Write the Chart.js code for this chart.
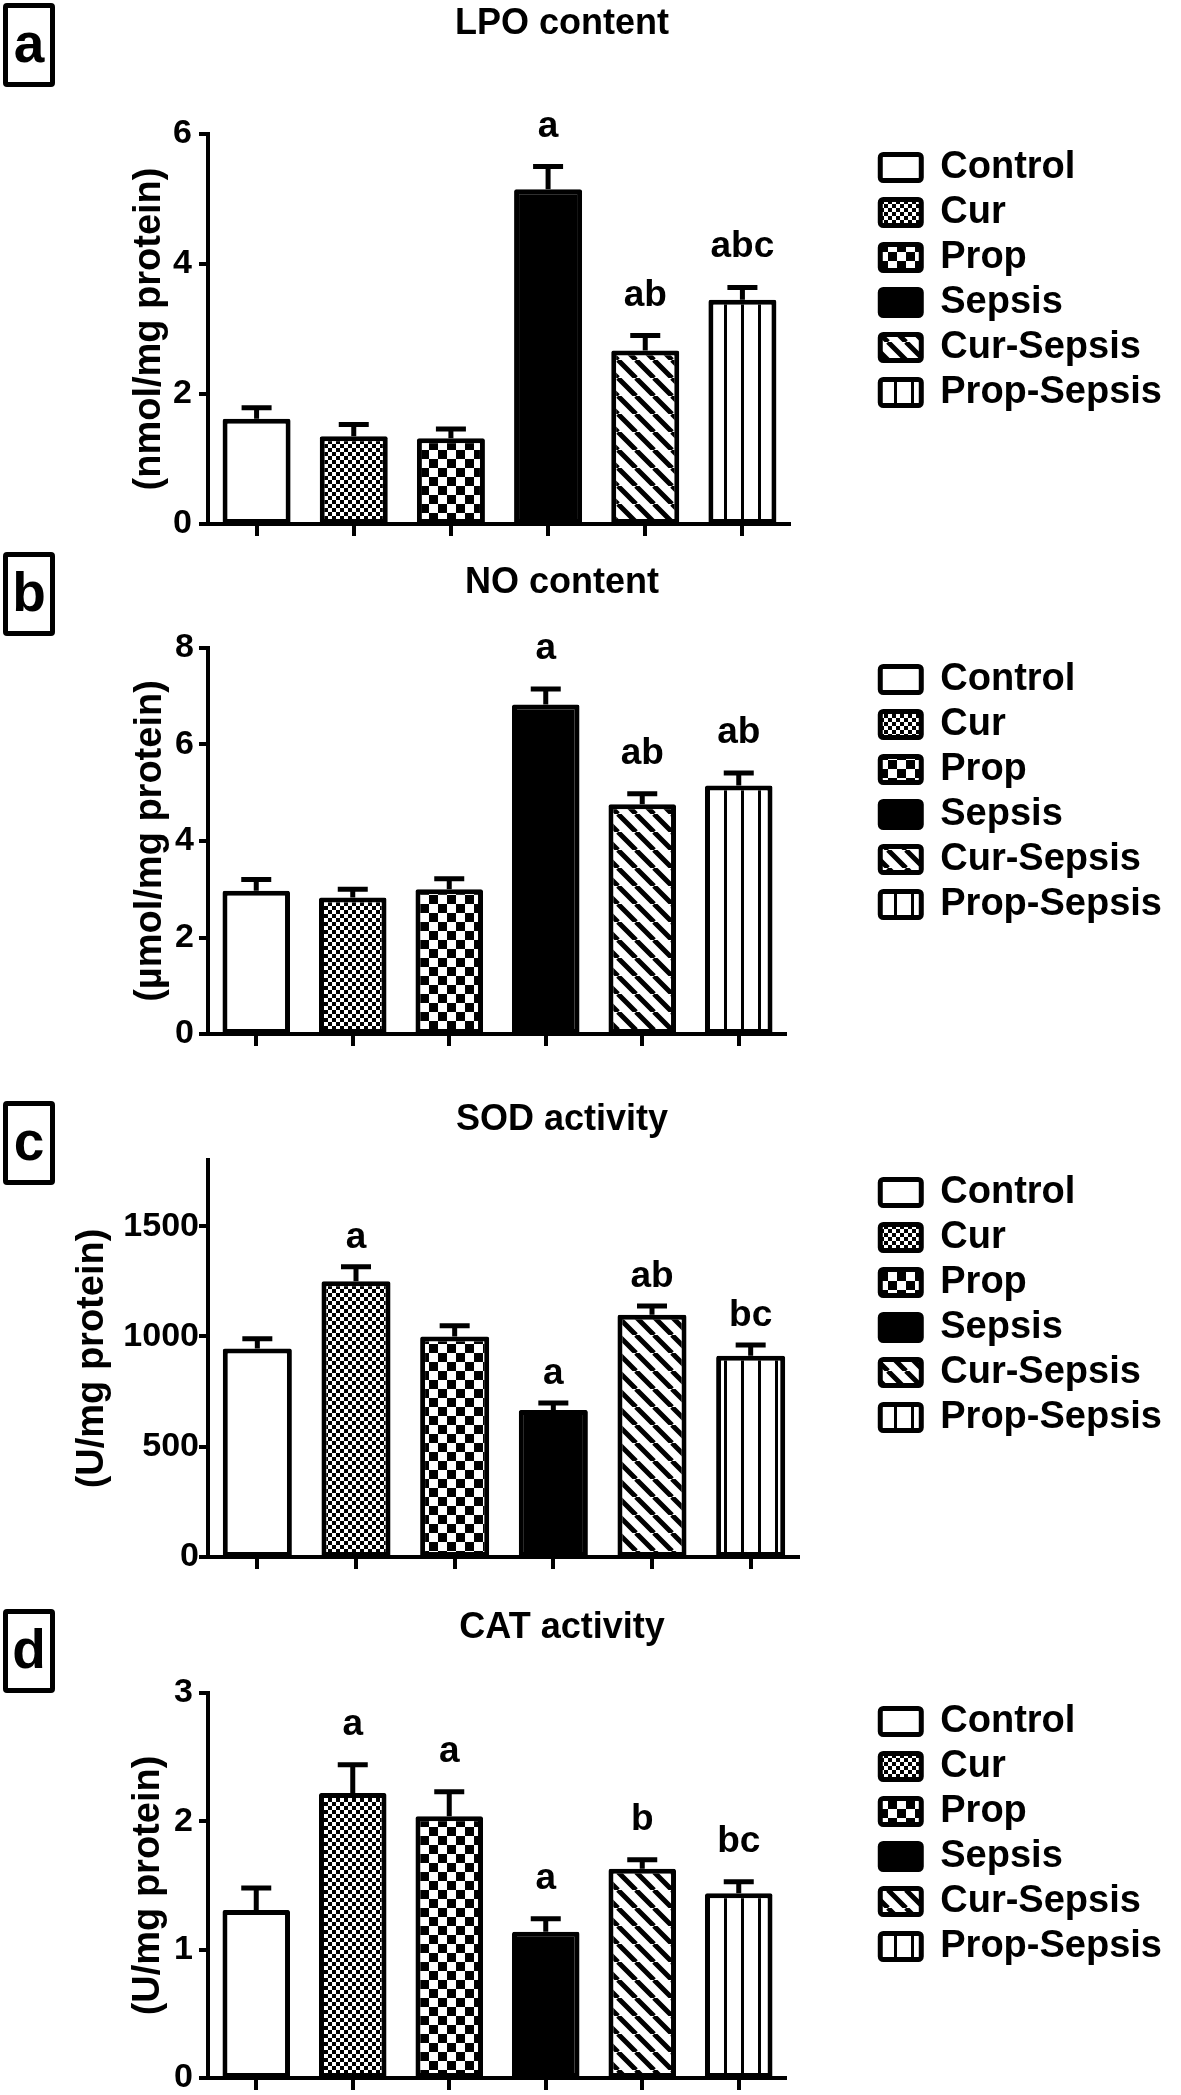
<!DOCTYPE html>
<html>
<head>
<meta charset="utf-8">
<script src="https://cdn.jsdelivr.net/npm/chart.js@4.4.1/dist/chart.umd.min.js"></script>
<style>
  html, body { margin: 0; padding: 0; background: #fff; }
  #page { position: relative; width: 1181px; height: 2095px; overflow: hidden; background: #fff; }
  #page canvas { position: absolute; }
  .tag { position: absolute; left: 3px; width: 42px; height: 74px; border: 5px solid #000; border-radius: 4px;
         font: bold 55px "Liberation Sans", Arial, sans-serif; text-align: center; line-height: 70px; color: #000; }
</style>
</head>
<body>
<div id="page"></div>
<script>
const groups = ['Control', 'Cur', 'Prop', 'Sepsis', 'Cur-Sepsis', 'Prop-Sepsis'];

// a: LPO content (nmol/mg protein)
const lpoMean = [1.62, 1.35, 1.32, 5.15, 2.67, 3.45];
const lpoSem = [0.17, 0.18, 0.14, 0.35, 0.23, 0.19];
const lpoSig = ['', '', '', 'a', 'ab', 'abc'];

// b: NO content (umol/mg protein)
const noMean = [2.97, 2.83, 3.00, 6.83, 4.76, 5.15];
const noSem = [0.23, 0.17, 0.22, 0.32, 0.22, 0.26];
const noSig = ['', '', '', 'a', 'ab', 'ab'];

// c: SOD activity (U/mg protein)
const sodMean = [945, 1250, 1000, 667, 1098, 912];
const sodSem = [45, 66, 49, 31, 40, 49];
const sodSig = ['', 'a', '', 'a', 'ab', 'bc'];

// d: CAT activity (U/mg protein)
const catMean = [1.31, 2.22, 2.04, 1.14, 1.63, 1.44];
const catSem = [0.17, 0.22, 0.19, 0.10, 0.07, 0.09];
const catSig = ['', 'a', 'a', 'a', 'b', 'bc'];

// layout of each panel, in page pixels
const panels = [
  {tag: 'a', title: 'LPO content', unit: '(nmol/mg protein)', mean: lpoMean, sem: lpoSem, sig: lpoSig, max: 6, step: 2,
   top: 134, zero: 524, titleY: 24, legendY: 280, right: 791, unitX: 150, tickPad: 7, gap: 30, tagTop: 3},
  {tag: 'b', title: 'NO content', unit: '(\u00b5mol/mg protein)', mean: noMean, sem: noSem, sig: noSig, max: 8, step: 2,
   top: 648, zero: 1034, titleY: 583, legendY: 792, right: 787, unitX: 151, tickPad: 5, gap: 30, tagTop: 552},
  {tag: 'c', title: 'SOD activity', unit: '(U/mg protein)', mean: sodMean, sem: sodSem, sig: sodSig, max: 1800, step: 500,
   top: 1160, zero: 1557, titleY: 1120, legendY: 1305, right: 800, unitX: 93, tickPad: 0, gap: 19, tagTop: 1101},
  {tag: 'd', title: 'CAT activity', unit: '(U/mg protein)', mean: catMean, sem: catSem, sig: catSig, max: 3, step: 1,
   top: 1693, zero: 2078, titleY: 1628, legendY: 1834, right: 787, unitX: 149, tickPad: 6, gap: 30, tagTop: 1609}
];

const FONT = '"Liberation Sans", Arial, sans-serif';
Chart.defaults.font.family = FONT;
Chart.defaults.font.weight = 'bold';
Chart.defaults.color = '#000';

const LEGEND_SIZE = 38;
const BOX_W = 41;
const TITLE_CENTER = 562; // page x of the panel titles
const LEGEND_BOX_X = 880; // page x of the legend swatches
const AXIS_X = 208;       // page x of the y axis

// fill patterns
function makePattern(size, draw) {
  const c = document.createElement('canvas');
  c.width = c.height = size;
  const g = c.getContext('2d');
  g.fillStyle = '#fff';
  g.fillRect(0, 0, size, size);
  g.fillStyle = '#000';
  g.strokeStyle = '#000';
  draw(g, size);
  return g.createPattern(c, 'repeat');
}
const finePattern = makePattern(8, g => { g.fillRect(0, 0, 4, 4); g.fillRect(4, 4, 4, 4); });
const coarsePattern = makePattern(18, g => { g.fillRect(0, 0, 9, 9); g.fillRect(9, 9, 9, 9); });
const diagPattern = makePattern(18, (g, s) => {
  g.lineWidth = 5;
  g.beginPath();
  [-s, 0, s].forEach(o => { g.moveTo(o, 0); g.lineTo(o + s, s); });
  g.stroke();
});
const vertPattern = makePattern(17, g => { g.fillRect(7, 0, 3, 17); });
const fills = ['#fff', finePattern, coarsePattern, '#000', diagPattern, vertPattern];

// canvas span so that the titles centre on TITLE_CENTER and the legend sits at LEGEND_BOX_X
const mctx = document.createElement('canvas').getContext('2d');
mctx.font = 'bold ' + LEGEND_SIZE + 'px ' + FONT;
const longest = Math.max(...groups.map(g => mctx.measureText(g).width));
const R = LEGEND_BOX_X + BOX_W + LEGEND_SIZE / 2 + longest + 10;
const L = Math.round(2 * TITLE_CENTER - R);
const W = Math.round(R - L);

// upper error bars + significance letters
function errorBars(p) {
  return {
    id: 'errorBars',
    afterDatasetsDraw(chart) {
      const ctx = chart.ctx;
      const y = chart.scales.y;
      const meta = chart.getDatasetMeta(0);
      ctx.save();
      ctx.strokeStyle = '#000';
      ctx.fillStyle = '#000';
      ctx.lineWidth = 5;
      ctx.font = 'bold 37px ' + FONT;
      ctx.textAlign = 'center';
      ctx.textBaseline = 'alphabetic';
      meta.data.forEach((bar, i) => {
        const top = y.getPixelForValue(p.mean[i] + p.sem[i]);
        ctx.beginPath();
        ctx.moveTo(bar.x, bar.y);
        ctx.lineTo(bar.x, top);
        ctx.moveTo(bar.x - 15, top);
        ctx.lineTo(bar.x + 15, top);
        ctx.stroke();
        if (p.sig[i]) ctx.fillText(p.sig[i], bar.x, top - p.gap);
      });
      ctx.restore();
    }
  };
}

const page = document.getElementById('page');

panels.forEach(p => {
  const end = Math.max(p.zero + 24, 2 * p.legendY - (p.titleY - 24));
  const T = 2 * p.legendY - end;
  const H = end - T;
  const titlePadTop = p.titleY - T - 21.6;
  const titlePadBottom = (p.top - T) - titlePadTop - 43.2;

  const canvas = document.createElement('canvas');
  canvas.width = W;
  canvas.height = H;
  canvas.style.left = L + 'px';
  canvas.style.top = T + 'px';
  canvas.style.width = W + 'px';
  canvas.style.height = H + 'px';
  page.appendChild(canvas);

  const tag = document.createElement('div');
  tag.className = 'tag';
  tag.style.top = p.tagTop + 'px';
  tag.textContent = p.tag;
  page.appendChild(tag);

  // tick marks only; lineWidth 0 keeps the bars sitting right on the axis
  const axisGrid = { display: true, drawOnChartArea: false, drawTicks: true, lineWidth: 0, tickWidth: 4, color: '#000' };
  const axisBorder = { display: true, color: '#000', width: 4, z: 1 };

  new Chart(canvas, {
    type: 'bar',
    data: {
      labels: groups,
      datasets: [{
        data: p.mean,
        xAxisID: 'x',
        yAxisID: 'y',
        backgroundColor: fills,
        borderColor: '#000',
        borderWidth: 5,
        borderSkipped: false,
        borderRadius: 2,
        barPercentage: 0.7,
        categoryPercentage: 1
      }]
    },
    options: {
      responsive: false,
      animation: false,
      devicePixelRatio: 1,
      events: [],
      layout: { padding: 0, autoPadding: false },
      scales: {
        x: {
          offset: true,
          grid: Object.assign({}, axisGrid, { tickLength: 12, offset: false }),
          border: axisBorder,
          ticks: { display: false },
          afterFit: s => { s.height = end - p.zero; s.paddingLeft = 0; s.paddingRight = 0; }
        },
        y: {
          min: 0,
          max: p.max,
          grid: Object.assign({}, axisGrid, { tickLength: 9 }),
          border: axisBorder,
          ticks: { padding: p.tickPad, color: '#000', font: { size: 34, weight: 'bold' }, callback: v => String(v) },
          afterBuildTicks: s => {
            const t = [];
            for (let v = 0; v <= p.max + 1e-9; v += p.step) t.push({ value: v });
            s.ticks = t;
          },
          title: { display: true, text: p.unit, color: '#000', font: { size: 38, weight: 'bold' },
                   padding: { top: p.unitX - L - 22.8, bottom: 0 } },
          afterFit: s => { s.width = AXIS_X - L; s.paddingTop = 0; s.paddingBottom = 0; }
        },
        yr: {
          position: 'right',
          display: true,
          grid: { display: false },
          border: { display: false },
          ticks: { display: false },
          afterFit: s => { s.width = Math.max(0, W - s.chart.legend.width - (p.right - L)); s.paddingTop = 0; s.paddingBottom = 0; }
        }
      },
      plugins: {
        title: {
          display: true,
          text: p.title,
          color: '#000',
          font: { size: 36, weight: 'bold' },
          padding: { top: titlePadTop, bottom: titlePadBottom }
        },
        legend: {
          display: true,
          position: 'right',
          align: 'center',
          maxWidth: 500,
          labels: {
            boxWidth: BOX_W,
            boxHeight: 26,
            padding: 7,
            color: '#000',
            font: { size: LEGEND_SIZE, weight: 'bold' },
            generateLabels: () => groups.map((g, i) => ({
              text: g, fillStyle: fills[i], strokeStyle: '#000', lineWidth: 5,
              borderRadius: 3, hidden: false, index: i, fontColor: '#000'
            }))
          }
        },
        tooltip: { enabled: false }
      }
    },
    plugins: [errorBars(p)]
  });
});
</script>
</body>
</html>
